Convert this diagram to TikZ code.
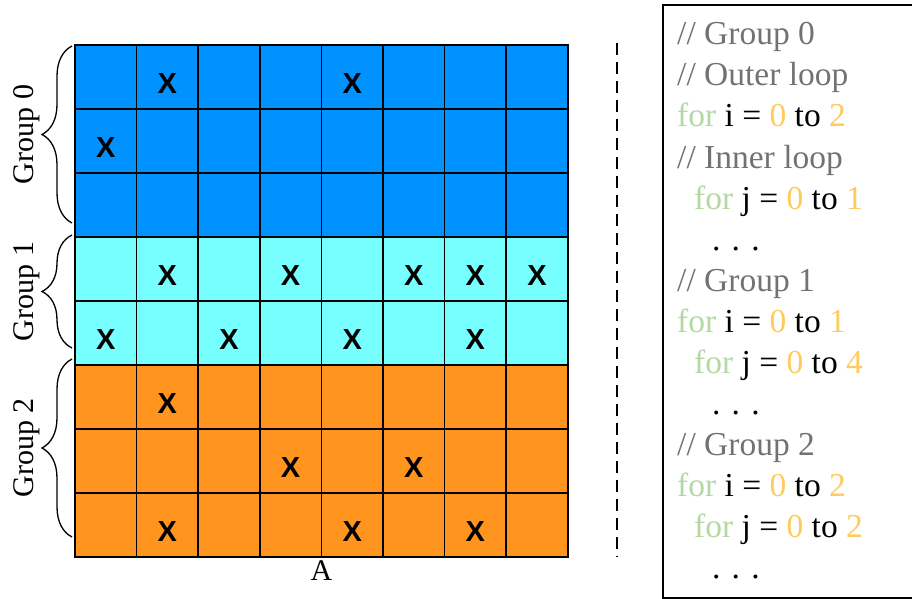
\documentclass[tikz,border=0pt]{standalone}
\usepackage{fontspec}
\setmainfont{Liberation Serif}
\newfontfamily\markfont{Liberation Sans}
\usetikzlibrary{decorations.pathreplacing}
\definecolor{gblue}{HTML}{0092FF}
\definecolor{gcyan}{HTML}{77FFFF}
\definecolor{gorange}{HTML}{FF941E}
\definecolor{cmtgrey}{HTML}{767171}
\definecolor{kwgreen}{HTML}{B4D8A4}
\definecolor{numorange}{HTML}{FFCA5E}
\tikzset{
  cell/.style={
    draw=black,
    line width=1.6pt,
    minimum width=61.6pt,
    minimum height=64pt,
    inner sep=0pt,
    outer sep=0pt
  },
  xmark/.style={
    font=\markfont\bfseries\fontsize{29}{29}\selectfont,
    inner sep=0pt,
    yshift=-6.5pt
  },
  gbrace/.style={
    decorate,
    decoration={brace, amplitude=30pt},
    line width=1.3pt
  },
  glabel/.style={
    rotate=90,
    anchor=base,
    inner sep=0pt,
    font=\fontsize{30}{30}\selectfont
  },
  alabel/.style={
    anchor=base,
    inner sep=0pt,
    font=\fontsize{30}{30}\selectfont
  },
  codeline/.style={
    anchor=base west,
    inner sep=0pt,
    font=\fontsize{33.5}{40}\selectfont
  },
  divider/.style={
    line width=2.7pt,
    dash pattern=on 12pt off 7pt
  },
  codebox/.style={
    line width=2.6pt
  }
}
\newcommand{\kwtxt}[1]{\textcolor{kwgreen}{#1}}
\newcommand{\numtxt}[1]{\textcolor{numorange}{#1}}
\newcommand{\cmtxt}[1]{\textcolor{cmtgrey}{#1}}
\def\cellW{61.6}
\def\cellH{64}

\begin{document}
\begin{tikzpicture}[x=1pt, y=-1pt]
  % Same frame as the 912x599 reference, y grows downwards
  \useasboundingbox (0,0) rectangle (912,599);

  % Matrix cells, one colour band per group
  \foreach \rows/\col in {{0,1,2}/gblue, {3,4}/gcyan, {5,6,7}/gorange}
    \foreach \r in \rows
      \foreach \c in {0,...,7}
        \node[cell, fill=\col] (cell-\r-\c)
          at ({75+\cellW*(\c+0.5)}, {45+\cellH*(\r+0.5)}) {};

  % Non-zero entries
  \foreach \r/\c in {0/1,0/4,1/0,3/1,3/3,3/5,3/6,3/7,4/0,4/2,4/4,4/6,
                     5/1,6/3,6/5,7/1,7/4,7/6}
    \node[xmark] (x-\r-\c) at (cell-\r-\c) {X};

  \node[alabel] (matA) at (321.5,580) {A};

  % Group braces with their labels
  \draw[gbrace] (72,223) -- (72,46)
    node[xshift=-39pt, glabel, midway] (g0label) {Group 0};
  \draw[gbrace] (72,348) -- (72,235)
    node[xshift=-39pt, glabel, midway] (g1label) {Group 1};
  \draw[gbrace] (72,537) -- (72,359)
    node[xshift=-39pt, glabel, midway] (g2label) {Group 2};

  % Divider
  \coordinate (divtop) at (617,43);
  \coordinate (divbot) at (617,557);
  \draw[divider] (divtop) -- (divbot);

  % Loop code
  \draw[codebox] (663,5) rectangle (940,598.3);
  \foreach \ind/\txt [count=\i] in {
      0/{\cmtxt{// Group 0}},
      0/{\cmtxt{// Outer loop}},
      0/{\kwtxt{for} i = \numtxt{0} to \numtxt{2}},
      0/{\cmtxt{// Inner loop}},
      17/{\kwtxt{for} j = \numtxt{0} to \numtxt{1}},
      35/{. . .},
      0/{\cmtxt{// Group 1}},
      0/{\kwtxt{for} i = \numtxt{0} to \numtxt{1}},
      17/{\kwtxt{for} j = \numtxt{0} to \numtxt{4}},
      35/{. . .},
      0/{\cmtxt{// Group 2}},
      0/{\kwtxt{for} i = \numtxt{0} to \numtxt{2}},
      17/{\kwtxt{for} j = \numtxt{0} to \numtxt{2}},
      35/{. . .}}
    \node[codeline] (line\i) at ({677+\ind}, {45+41*(\i-1)}) {\txt};
\end{tikzpicture}
\end{document}
